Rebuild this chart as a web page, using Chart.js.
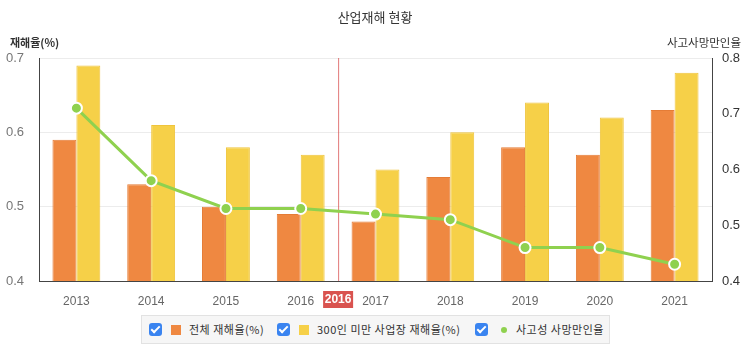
<!DOCTYPE html>
<html>
<head>
<meta charset="utf-8">
<script src="https://cdn.jsdelivr.net/npm/chart.js@4/dist/chart.umd.min.js"></script>
<style>
  body { margin:0; background:#fff; font-family:"Noto Sans CJK KR","Noto Sans",sans-serif; }
  #wrap { position:relative; width:750px; height:352px; }
  #box { position:absolute; left:0; top:0; width:750px; height:310px; }
  .legend { position:absolute; left:141px; top:315px; width:467px; height:27px; background:#f6f6f6; border:1px solid #e2e2e2;
            font-size:11px; color:#333; letter-spacing:0.5px; }
  .legend > * { position:absolute; }
  .chk { width:13px; height:13px; border-radius:3px; background:#3a84f0; top:7px; }
  .chk:after { content:""; position:absolute; left:4px; top:1px; width:3px; height:7px; border:solid #fff; border-width:0 2px 2px 0; transform:rotate(45deg); }
  .sw { width:10px; height:10px; top:8.5px; }
  .dot { width:6px; height:6px; border-radius:50%; top:10.5px; }
  .lbl { white-space:nowrap; top:4px; line-height:18px; }
</style>
</head>
<body>
<div id="wrap">
  <div id="box"><canvas id="c"></canvas></div>
  <div class="legend" id="legend"></div>
</div>
<script>
// ── DATA ──────────────────────────────────────────────────────────────
const years      = ['2013','2014','2015','2016','2017','2018','2019','2020','2021'];
const totalRate  = [0.59, 0.53, 0.50, 0.49, 0.48, 0.54, 0.58, 0.57, 0.63];
const smallRate  = [0.69, 0.61, 0.58, 0.57, 0.55, 0.60, 0.64, 0.62, 0.68];
const deathRate  = [0.71, 0.58, 0.53, 0.53, 0.52, 0.51, 0.46, 0.46, 0.43];
const seriesNames = ['전체 재해율(%)', '300인 미만 사업장 재해율(%)', '사고성 사망만인율'];
const markYear   = '2016';

const ORANGE = '#ef8841', YELLOW = '#f6d048', GREEN = '#8fd14f';

// legend (html, with checkbox look)
document.getElementById('legend').innerHTML = `
  <div class="chk" style="left:7px"></div><div class="sw" style="left:29px;background:${ORANGE}"></div>
  <span class="lbl" style="left:47px">${seriesNames[0]}</span>
  <div class="chk" style="left:135px"></div><div class="sw" style="left:157px;background:${YELLOW}"></div>
  <span class="lbl" style="left:175px">${seriesNames[1]}</span>
  <div class="chk" style="left:333px"></div><div class="dot" style="left:359px;background:${GREEN}"></div>
  <span class="lbl" style="left:374px">${seriesNames[2]}</span>`;

// title, axis titles, 2016 marker
const decor = {
  id: 'decor',
  beforeDatasetsDraw(chart) {
    const { ctx, chartArea: a, scales: { x } } = chart;
    const px = (x.getPixelForValue(3) + x.getPixelForValue(4)) / 2;
    ctx.save();
    ctx.strokeStyle = 'rgba(214,64,64,.7)';
    ctx.lineWidth = 1;
    ctx.beginPath(); ctx.moveTo(px + .5, a.top); ctx.lineTo(px + .5, a.bottom); ctx.stroke();
    ctx.restore();
  },
  afterDraw(chart) {
    const { ctx, chartArea: a, scales: { x } } = chart;
    const px = (x.getPixelForValue(3) + x.getPixelForValue(4)) / 2;
    ctx.save();
    ctx.fillStyle = '#333';
    ctx.font = '13px "Noto Sans CJK KR"';
    ctx.textAlign = 'center'; ctx.textBaseline = 'middle';
    ctx.fillText('산업재해 현황', 375, 17);
    ctx.font = 'bold 11px "Noto Sans CJK KR"';
    ctx.textAlign = 'left';
    ctx.fillText('재해율(%)', 10, 43);
    ctx.font = '11.5px "Noto Sans CJK KR"';
    ctx.textAlign = 'right';
    ctx.fillText('사고사망만인율', 741, 43);
    // red year marker
    ctx.fillStyle = '#d9534f';
    ctx.fillRect(px - 15, a.bottom + 10, 30, 17);
    ctx.fillStyle = '#fff';
    ctx.font = 'bold 12px "Liberation Sans"';
    ctx.textAlign = 'center';
    ctx.fillText(markYear, px, a.bottom + 19);
    ctx.restore();
  }
};

new Chart(document.getElementById('c'), {
  data: {
    labels: years,
    datasets: [
      { type: 'line', label: seriesNames[2], data: deathRate, yAxisID: 'y2',
        borderColor: GREEN, borderWidth: 3, backgroundColor: GREEN,
        pointRadius: 5.5, pointBorderColor: '#fff', pointBorderWidth: 2, tension: 0, order: 0 },
      { type: 'bar', label: seriesNames[0], data: totalRate, yAxisID: 'y',
        backgroundColor: ORANGE, borderColor: '#e57c36', borderWidth: 1, order: 1,
        categoryPercentage: 0.64, barPercentage: 1.0 },
      { type: 'bar', label: seriesNames[1], data: smallRate, yAxisID: 'y',
        backgroundColor: YELLOW, borderColor: '#efc43c', borderWidth: 1, order: 1,
        categoryPercentage: 0.64, barPercentage: 1.0 },
    ],
  },
  options: {
    responsive: true,
    maintainAspectRatio: false,
    animation: false,
    layout: { padding: { top: 58, left: 0, right: 0, bottom: 0 } },
    plugins: { legend: { display: false }, title: { display: false }, tooltip: { enabled: false } },
    scales: {
      x: {
        grid: { display: false, drawTicks: false },
        border: { color: '#444', width: 1 },
        ticks: { color: '#666', font: { size: 12, family: 'Liberation Sans' }, padding: 13 },
        afterFit(s) { s.height = 29; },
      },
      y: {
        position: 'left', min: 0.4, max: 0.7,
        grid: { color: '#ececec', drawTicks: false },
        border: { color: '#444', width: 1 },
        ticks: { stepSize: 0.1, color: '#777', padding: 15, font: { size: 13, family: 'Liberation Sans' },
                 callback: v => v.toFixed(1) },
        afterFit(s) { s.width = 39; },
      },
      y2: {
        position: 'right', min: 0.4, max: 0.8,
        grid: { display: false, drawTicks: false },
        border: { color: '#444', width: 1 },
        ticks: { stepSize: 0.1, color: '#333', padding: 10, font: { size: 13, family: 'Liberation Sans' },
                 callback: v => v.toFixed(1) },
        afterFit(s) { s.width = 38; },
      },
    },
  },
  plugins: [decor],
});
</script>
</body>
</html>
